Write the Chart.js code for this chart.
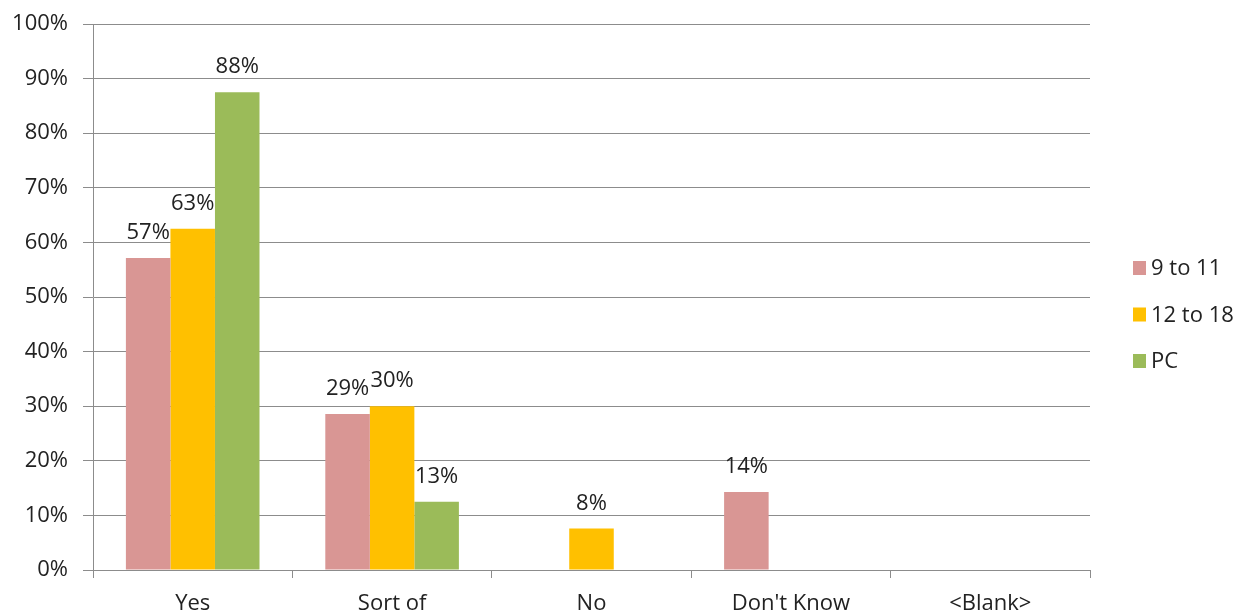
<!DOCTYPE html>
<html>
<head>
<meta charset="utf-8">
<script src="https://cdn.jsdelivr.net/npm/chart.js@4"></script>
<style>
    html, body { margin: 0; padding: 0; background: #fff; }
    #wrap { width: 1254px; height: 614px; }
</style>
</head>
<body>
<div id="wrap"><canvas id="myChart" width="1254" height="614"></canvas></div>
<script>
const categories = ['Yes', 'Sort of', 'No', "Don't Know", '<Blank>'];
const age9to11 = [57.14, 28.57, null, 14.29, null];
const age12to18 = [62.5, 30, 7.6, null, null];
const pcValues = [87.5, 12.5, null, null, null];
const yTicks = [0, 10, 20, 30, 40, 50, 60, 70, 80, 90, 100];

const gridGray = '#8c8c8c';
const textColor = '#222222';

Chart.defaults.font.family = '"Open Sans", sans-serif';
Chart.defaults.font.size = 22;
Chart.defaults.color = textColor;

// value labels above each bar
const barLabels = {
    id: 'barLabels',
    afterDatasetsDraw(chart) {
        const ctx = chart.ctx;
        ctx.save();
        ctx.font = '22px "Open Sans", sans-serif';
        ctx.fillStyle = textColor;
        ctx.textAlign = 'center';
        ctx.textBaseline = 'alphabetic';
        chart.data.datasets.forEach((ds, i) => {
            const meta = chart.getDatasetMeta(i);
            meta.data.forEach((bar, j) => {
                const v = ds.data[j];
                if (v === null || v === undefined) return;
                ctx.fillText(Math.round(v) + '%', bar.x, bar.y - 19);
            });
        });
        ctx.restore();
    }
};

// legend on the right, drawn by hand
const sideLegend = {
    id: 'sideLegend',
    afterDraw(chart) {
        const ctx = chart.ctx;
        ctx.save();
        ctx.font = '22px "Open Sans", sans-serif';
        ctx.textBaseline = 'middle';
        ctx.textAlign = 'left';
        chart.data.datasets.forEach((ds, i) => {
            const cy = 268 + i * 46.5;
            ctx.fillStyle = ds.backgroundColor;
            ctx.fillRect(1133, cy - 7, 13, 14);
            ctx.fillStyle = textColor;
            ctx.fillText(ds.label, 1151, cy + 1);
        });
        ctx.restore();
    }
};

const ctx = document.getElementById('myChart').getContext('2d');
window.chart = new Chart(ctx, {
    type: 'bar',
    data: {
        labels: categories,
        datasets: [
            { label: '9 to 11', data: age9to11, backgroundColor: '#D99694' },
            { label: '12 to 18', data: age12to18, backgroundColor: '#FFC000' },
            { label: 'PC', data: pcValues, backgroundColor: '#9BBB59' }
        ]
    },
    options: {
        responsive: false,
        animation: false,
        layout: { padding: { top: 24, right: 164, left: 0, bottom: 0 } },
        plugins: {
            legend: { display: false },
            tooltip: { enabled: false }
        },
        datasets: {
            bar: { categoryPercentage: 0.67, barPercentage: 1.0 }
        },
        scales: {
            x: {
                offset: true,
                grid: {
                    offset: true,
                    drawOnChartArea: false,
                    drawTicks: true,
                    tickLength: 8,
                    color: gridGray
                },
                border: { color: gridGray },
                ticks: { padding: 13, maxRotation: 0 },
                afterFit: s => { s.height = 44; }
            },
            y: {
                min: 0,
                max: 100,
                afterBuildTicks: s => { s.ticks = yTicks.map(v => ({ value: v })); },
                grid: {
                    color: gridGray,
                    drawTicks: true,
                    tickLength: 10
                },
                border: { color: gridGray },
                ticks: {
                    padding: 15,
                    callback: v => v + '%'
                },
                afterFit: s => {
                    s.width = 93;
                    s.paddingTop = 0;
                    s.paddingBottom = 0;
                }
            }
        }
    },
    plugins: [barLabels, sideLegend]
});
</script>
</body>
</html>
